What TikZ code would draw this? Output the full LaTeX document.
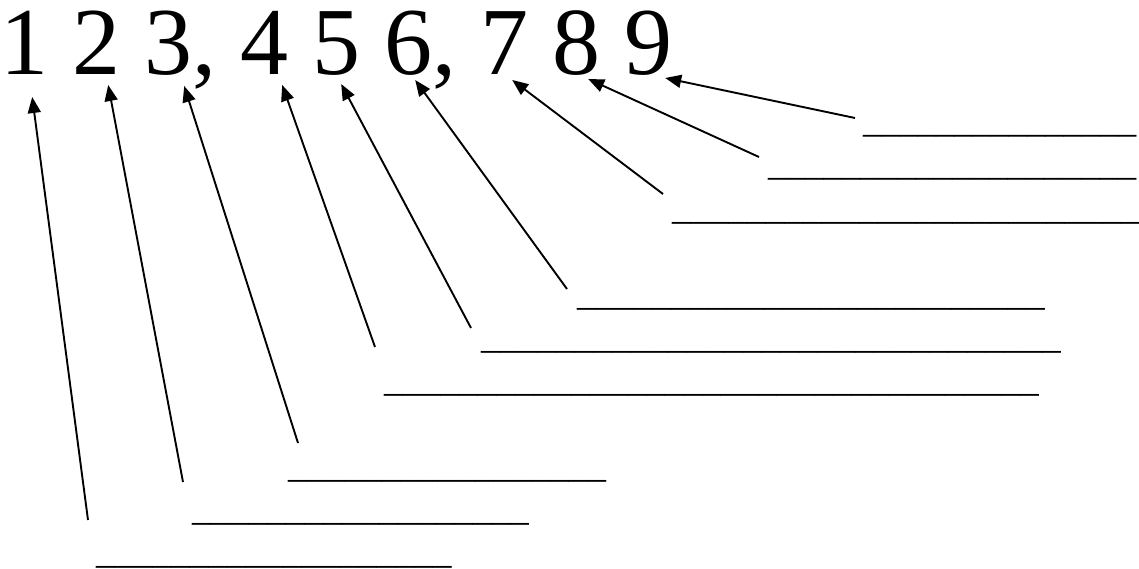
\documentclass[tikz,border=0pt]{standalone}
\usepackage{fontspec}
\setmainfont{Liberation Serif}
\usetikzlibrary{arrows.meta}

% a row of n underscores, for the answer lines
\newcommand{\fillin}[1]{\foreach \k in {1,...,#1}{\_}}

\begin{document}
\begin{tikzpicture}[
    x=1pt, y=-1pt,
    % styles
    digit/.style={inner sep=0pt, anchor=base west, font=\fontsize{96}{100}\selectfont},
    blank/.style={inner sep=0pt, anchor=base west, font=\fontsize{37.4}{40}\selectfont},
    pointer/.style={-{Triangle[length=16pt, width=13pt]}, line width=1.9pt, draw=black}
]
\useasboundingbox (0,0) rectangle (1139,569);

% --- NUMBERS ---
\node[digit] (n1) at (0, 75) {1};
\node[digit] (n2) at (72, 75) {2};
\node[digit] (n3) at (144, 75) {3,};
\node[digit] (n4) at (240, 75) {4};
\node[digit] (n5) at (312, 75) {5};
\node[digit] (n6) at (384, 75) {6,};
\node[digit] (n7) at (480, 75) {7};
\node[digit] (n8) at (552, 75) {8};
\node[digit] (n9) at (624, 75) {9};

% --- ANSWER LINES ---
\node[blank, font=\fontsize{36.4}{40}\selectfont] (b9) at (863, 133) {\fillin{15}};
\node[blank, font=\fontsize{36.8}{40}\selectfont] (b8) at (768, 176) {\fillin{20}};
\node[blank] (b7) at (672, 219) {\fillin{25}};
\node[blank] (b6) at (577, 305) {\fillin{25}};
\node[blank] (b5) at (481, 348) {\fillin{31}};
\node[blank] (b4) at (384, 391) {\fillin{35}};
\node[blank] (b3) at (288, 477) {\fillin{17}};
\node[blank] (b2) at (192, 520) {\fillin{18}};
\node[blank] (b1) at (96, 563) {\fillin{19}};

% --- POINTERS ---
\draw[pointer] ([shift={(-8,-43)}]b1.base west) -- ([shift={(8,22)}]n1.base);
\draw[pointer] ([shift={(-9,-38)}]b2.base west) -- ([shift={(12,10)}]n2.base);
\draw[pointer] ([shift={(10,-34)}]b3.base west) -- ([shift={(4,11)}]n3.base);
\draw[pointer] ([shift={(-9,-44)}]b4.base west) -- ([shift={(18,10)}]n4.base);
\draw[pointer] ([shift={(-10,-20)}]b5.base west) -- ([shift={(5,9)}]n5.base);
\draw[pointer] ([shift={(-10,-16)}]b6.base west) -- ([shift={(-5,5)}]n6.base);
\draw[pointer] ([shift={(-9,-25)}]b7.base west) -- ([shift={(8,5)}]n7.base);
\draw[pointer] ([shift={(-9,-19)}]b8.base west) -- ([shift={(12,4)}]n8.base);
\draw[pointer] ([shift={(-8,-15)}]b9.base west) -- ([shift={(17,3)}]n9.base);

\end{tikzpicture}
\end{document}
